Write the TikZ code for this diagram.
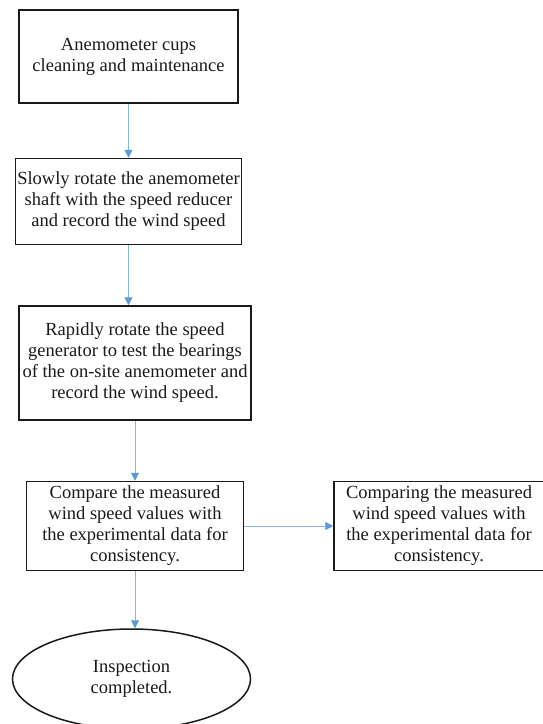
\documentclass[tikz,border=0pt]{standalone}
\usepackage{fontspec}
\setmainfont{Liberation Serif}
\usepackage{xcolor}
\definecolor{FlowBlue}{HTML}{5B9BD5}
\definecolor{FlowInk}{HTML}{1A1A1A}
\usepackage{tikz}
\usetikzlibrary{shapes.geometric,arrows.meta,positioning}

\begin{document}
\begin{tikzpicture}[
  stepbox/.style={draw=FlowInk, line width=1.5pt, align=center,
                  inner sep=2pt, text=FlowInk,
                  font=\fontsize{18.5}{21}\selectfont},
  endnode/.style={stepbox, ellipse},
  flow/.style={-{Triangle[length=8pt,width=8pt,color=FlowBlue]},
               draw=FlowBlue!75, line width=0.9pt},
]
\useasboundingbox (0,0) rectangle (543pt,-724pt);
\node[stepbox, minimum width=219pt, minimum height=93pt] (clean) at (128.5pt,-56.5pt)
  {Anemometer cups\\cleaning and maintenance};
\node[stepbox, minimum width=219pt, minimum height=86pt, below=54pt of clean] (slow)
  {Slowly rotate the anemometer\\shaft with the speed reducer\\and record the wind speed};
\node[stepbox, minimum width=232pt, minimum height=114pt, below=60pt of slow, xshift=6.5pt] (rapid)
  {Rapidly rotate the speed\\generator to test the bearings\\of the on-site anemometer and\\record the wind speed.};
\node[stepbox, minimum width=217pt, minimum height=89pt, below=60pt of rapid] (compare)
  {Compare the measured\\wind speed values with\\the experimental data for\\consistency.};
\node[stepbox, minimum width=210pt, minimum height=89pt, right=89pt of compare] (comparing)
  {Comparing the measured\\wind speed values with\\the experimental data for\\consistency.};
\node[endnode, minimum width=238pt, minimum height=100pt, below=57pt of compare, xshift=-3.5pt] (done)
  {Inspection\\completed.};
\draw[flow] (clean) -- (slow);
\draw[flow] (slow) -- (slow |- rapid.north);
\draw[flow] (rapid) -- (compare);
\draw[flow] (compare) -- (comparing);
\draw[flow] (compare) -- (compare |- done.north);
\end{tikzpicture}
\end{document}
